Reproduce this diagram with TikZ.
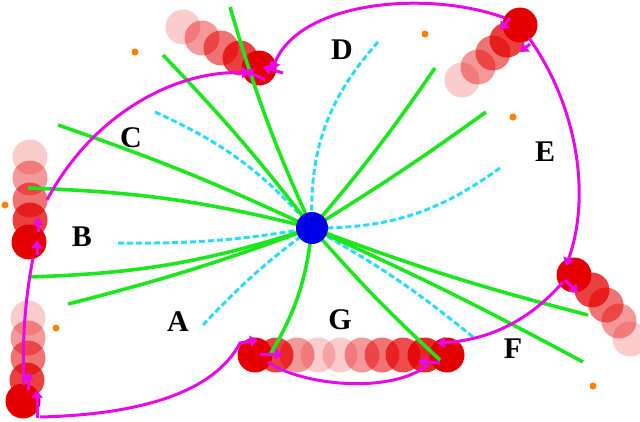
\documentclass[tikz,border=0pt]{standalone}
\usepackage{fontspec}
\setmainfont{Liberation Serif}
\usetikzlibrary{arrows.meta}
\begin{document}
\begin{tikzpicture}[x=1pt,y=-1pt,
  grn/.style={draw={rgb,255:red,30;green,230;blue,30},line width=3.6pt},
  cya/.style={draw={rgb,255:red,40;green,220;blue,250},line width=3pt,dash pattern=on 6pt off 3pt},
  mag/.style={draw={rgb,255:red,230;green,10;blue,230},line width=3pt},
  marr/.style={mag,-{Triangle[length=8pt,width=11pt]}},
  ball/.style={circle,minimum size=35pt,inner sep=0pt,fill={rgb,255:red,228;green,0;blue,0},fill opacity=#1},
  odot/.style={circle,fill=orange,inner sep=0pt,minimum size=7pt},
  lab/.style={font=\fontsize{30}{30}\selectfont\bfseries}]
\useasboundingbox (0,0) rectangle (640,421);
% red stacks (drawn back to front)
\foreach \x/\y/\o [count=\i] in {183/27/0.2,202/38/0.4,221/48/0.55,240/58/0.75,259/68/1}
  \node[ball=\o] (d\i) at (\x,\y) {};
\foreach \x/\y/\o [count=\i] in {462/80/0.2,478/67/0.4,493/53/0.55,507/40/0.75,520/25/1}
  \node[ball=\o] (e\i) at (\x,\y) {};
\foreach \x/\y/\o [count=\i] in {30/157/0.2,30/178/0.4,30/200/0.55,30/220/0.75,29/242/1}
  \node[ball=\o] (b\i) at (\x,\y) {};
\foreach \x/\y/\o [count=\i] in {28/318/0.2,28/338/0.4,28/358/0.55,27/380/0.75,23/401/1}
  \node[ball=\o] (l\i) at (\x,\y) {};
\foreach \x/\y/\o [count=\i] in {630/339/0.2,619/321/0.4,606/305/0.55,592/290/0.75,574/275/1}
  \node[ball=\o] (f\i) at (\x,\y) {};
\foreach \x/\y/\o [count=\i] in {318/355/0.2,340/355/0.2,297/355/0.4,362/355/0.4,276/355/0.75,382/355/0.55,403/355/0.7,425/355/0.85,255/355/1,447/355/1}
  \node[ball=\o] (g\i) at (\x,\y) {};
% orange dots
\foreach \x/\y [count=\i] in {135/52,425/34,513/117,5/205,56/328,593/386}
  \node[odot] (o\i) at (\x,\y) {};
% cyan dashed
\coordinate (c1) at (155,112); \coordinate (c2) at (378,42); \coordinate (c3) at (500,168);
\coordinate (c4) at (118,243); \coordinate (c5) at (203,325); \coordinate (c6) at (473,337);
\coordinate (Oc) at (312,228);
\draw[cya] (c1) to[bend left=12] (Oc);
\draw[cya] (c2) to[bend right=22] (Oc);
\draw[cya] (c3) to[bend left=18] (Oc);
\draw[cya] (c4) to[bend right=5] (Oc);
\draw[cya] (c5) to[bend left=5] (Oc);
\draw[cya] (c6) to[bend right=5] (Oc);
% green lines
\foreach \x/\y/\b [count=\i] in {230/7/-4,163/55/3,58/125/3,28/188/6,435/68/3,486/112/2,28/277/-8,68/304/-3,270/355/-12,440/360/3,588/315/3,583/362/-2}
{ \coordinate (q\i) at (\x,\y); \draw[grn] (q\i) to[bend left=\b] (Oc); }
% center
\node[circle,fill={rgb,255:red,0;green,0;blue,230},minimum size=32pt,inner sep=0pt] (O) at (Oc) {};
% magenta arcs
\coordinate (m1) at (47,200); \coordinate (m2) at (250,73);
\draw[marr] (m1) .. controls (95,110) and (180,70) .. (m2);
\coordinate (m3) at (505,18); \coordinate (m4) at (272,70);
\draw[marr] (m3) .. controls (430,-10) and (300,0) .. (m4);
\coordinate (m5) at (529,38); \coordinate (m6) at (566,266);
\draw[marr] (m5) .. controls (580,110) and (590,200) .. (m6);
\coordinate (m7) at (563,282); \coordinate (m8) at (437,343);
\draw[marr] (m7) .. controls (530,320) and (490,340) .. (m8);
\coordinate (m9) at (428,365); \coordinate (m10) at (268,362);
\draw[mag] (m9) .. controls (390,395) and (300,385) .. (m10);
\coordinate (m11) at (40,417); \coordinate (m12) at (258,340);
\draw[marr] (m11) .. controls (120,415) and (210,400) .. (240,343) -- (m12);
\coordinate (m13) at (33,258); \coordinate (m14) at (24,385);
\draw[mag] (m13) .. controls (25,300) and (22,340) .. (m14);
% small arrows on balls
\draw[marr] (283,73) -- (263,67);
\draw[marr] (265,80) -- (245,70);
\draw[marr] (530,44) -- (520,52);
\draw[marr] (510,18) -- (500,30);
\draw[marr] (565,280) -- (578,293);
\draw[marr] (38,232) -- (38,217);
\draw[marr] (37,255) -- (37,240);
\draw[marr] (28,390) -- (28,372);
\draw[marr] (37,418) -- (37,390);
\draw[marr] (260,354) -- (283,354);
\draw[marr] (440,363) -- (418,361);
% labels
\node[lab] (LA) at (178,322) {A};
\node[lab] (LB) at (82,237) {B};
\node[lab] (LC) at (131,138) {C};
\node[lab] (LD) at (342,50) {D};
\node[lab] (LE) at (545,152) {E};
\node[lab] (LF) at (513,349) {F};
\node[lab] (LG) at (340,320) {G};
\end{tikzpicture}
\end{document}
